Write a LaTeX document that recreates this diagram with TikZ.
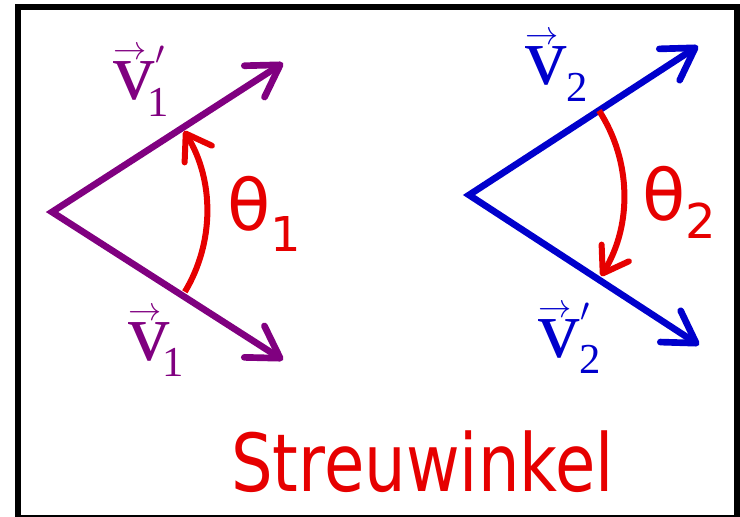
\documentclass[tikz,border=0pt]{standalone}
\usepackage{amsmath}
\usepackage{graphicx}
\usepackage{fontspec}
\setmainfont{Liberation Serif}
\newfontfamily\thetafont{DejaVu Sans}
\usetikzlibrary{arrows.meta}
\definecolor{vpurple}{RGB}{128,0,128}
\definecolor{vblue}{RGB}{0,0,204}
\definecolor{wred}{RGB}{230,0,0}
% v with arrow, optional prime (#2) and subscript #1, kern #3 before it
\newcommand{\vlab}[3]{\fontsize{62}{62}\selectfont
  \makebox[0pt][l]{\raisebox{30pt}{\fontsize{24}{24}\selectfont$\rightarrow$}}v%
  \makebox[0pt][l]{\hspace{1pt}\raisebox{27pt}{\fontsize{40}{40}\selectfont#2}}%
  \hspace{#3}\raisebox{-12.5pt}{\fontsize{32}{32}\selectfont#1}}
\newcommand{\wlab}[2]{\thetafont\fontsize{53}{53}\selectfont θ\raisebox{#2}{\fontsize{36}{36}\selectfont#1}}

\begin{document}
\begin{tikzpicture}[x=0.75pt, y=-0.75pt, >={Straight Barb[length=23pt,width=28pt,round]},
  vec/.style={line width=5pt, <->, line join=miter},
  angarc/.style={wred, line width=4.5pt, -{Straight Barb[length=18pt,width=24pt,round]}},
  lab/.style={inner sep=0pt, anchor=base west}]
\useasboundingbox (0,0) rectangle (740,517);
\draw[line width=4.5pt] (18,7) rectangle (737,518);
% left pair
\coordinate (O1) at (52,212);\coordinate (A1) at (283,63);\coordinate (B1) at (283,360);
\draw[vec, vpurple] (A1) -- (O1) -- (B1);
\draw[angarc] (O1) ++(31:155) arc[start angle=31, end angle=-31.5, radius=155];
\node[lab, vpurple] (v1p) at (113,100) {\vlab{1}{$\prime$}{-5pt}};
\node[lab, vpurple] (v1) at (128,360) {\vlab{1}{}{-5pt}};
\node[lab, wred] (t1) at (227,230) {\wlab{1}{-16pt}};
% right pair
\coordinate (O2) at (469,195);\coordinate (A2) at (698,46);\coordinate (B2) at (699,345);
\draw[vec, vblue] (A2) -- (O2) -- (B2);
\draw[angarc] (O2) ++(-33:155) arc[start angle=-33, end angle=31.5, radius=155];
\node[lab, vblue] (v2) at (525,85) {\vlab{2}{}{0pt}};
\node[lab, vblue] (v2p) at (538,357) {\vlab{2}{$\prime$}{0pt}};
\node[lab, wred] (t2) at (642,220) {\wlab{2}{-13.5pt}};
\node[lab, wred] (title) at (231,491) {\thetafont\fontsize{60}{60}\selectfont\scalebox{0.82}[1]{Streuwinkel}};
\end{tikzpicture}
\end{document}
